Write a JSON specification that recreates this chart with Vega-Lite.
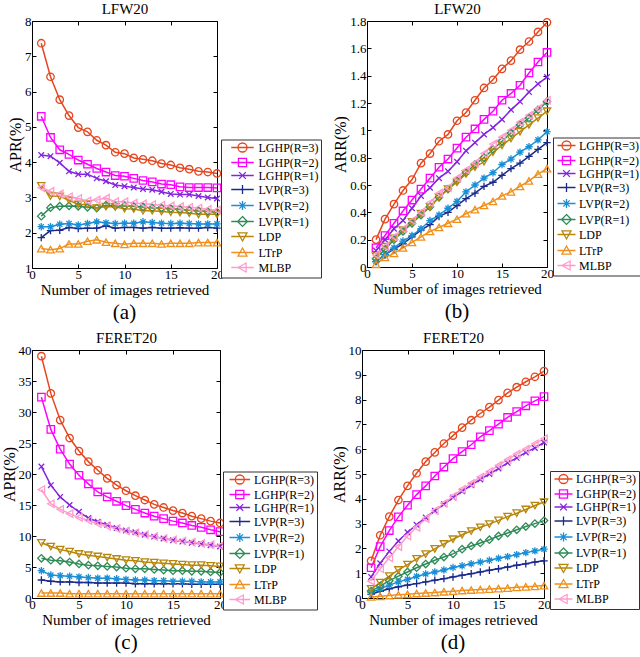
{
"$schema":"https://vega.github.io/schema/vega-lite/v6.json",
"padding":{"left":0,"top":1,"right":0,"bottom":0},
"config":{
"font":"Liberation Serif",
"view":{"stroke":"black","strokeWidth":1},
"axis":{"grid":false,"domain":false,"labelFlush":false,"labelOverlap":false,"tickColor":"black","tickSize":-4,"tickWidth":1,"labelFont":"Liberation Serif","labelFontSize":13,"labelColor":"black","titleFont":"Liberation Serif","titleFontSize":15,"titleFontWeight":"normal","titleColor":"black","labelPadding":4,"titlePadding":1},
"axisY":{"labelPadding":5},
"legend":{"labelFont":"Liberation Serif","labelFontSize":12,"labelColor":"black"},
"title":{"font":"Liberation Serif","fontWeight":"normal","fontSize":21,"color":"black","offset":5}
},
"datasets":{"d":[
{"p":"a","s":"LGHP(R=3)","x":1,"y":7.37},{"p":"a","s":"LGHP(R=3)","x":2,"y":6.42},{"p":"a","s":"LGHP(R=3)","x":3,"y":5.77},{"p":"a","s":"LGHP(R=3)","x":4,"y":5.32},{"p":"a","s":"LGHP(R=3)","x":5,"y":4.98},{"p":"a","s":"LGHP(R=3)","x":6,"y":4.86},{"p":"a","s":"LGHP(R=3)","x":7,"y":4.62},{"p":"a","s":"LGHP(R=3)","x":8,"y":4.48},{"p":"a","s":"LGHP(R=3)","x":9,"y":4.28},{"p":"a","s":"LGHP(R=3)","x":10,"y":4.24},{"p":"a","s":"LGHP(R=3)","x":11,"y":4.12},{"p":"a","s":"LGHP(R=3)","x":12,"y":4.08},{"p":"a","s":"LGHP(R=3)","x":13,"y":4.04},{"p":"a","s":"LGHP(R=3)","x":14,"y":3.96},{"p":"a","s":"LGHP(R=3)","x":15,"y":3.92},{"p":"a","s":"LGHP(R=3)","x":16,"y":3.84},{"p":"a","s":"LGHP(R=3)","x":17,"y":3.80},{"p":"a","s":"LGHP(R=3)","x":18,"y":3.74},{"p":"a","s":"LGHP(R=3)","x":19,"y":3.72},{"p":"a","s":"LGHP(R=3)","x":20,"y":3.68},
{"p":"a","s":"LGHP(R=2)","x":1,"y":5.30},{"p":"a","s":"LGHP(R=2)","x":2,"y":4.70},{"p":"a","s":"LGHP(R=2)","x":3,"y":4.35},{"p":"a","s":"LGHP(R=2)","x":4,"y":4.22},{"p":"a","s":"LGHP(R=2)","x":5,"y":4.06},{"p":"a","s":"LGHP(R=2)","x":6,"y":3.94},{"p":"a","s":"LGHP(R=2)","x":7,"y":3.82},{"p":"a","s":"LGHP(R=2)","x":8,"y":3.72},{"p":"a","s":"LGHP(R=2)","x":9,"y":3.62},{"p":"a","s":"LGHP(R=2)","x":10,"y":3.60},{"p":"a","s":"LGHP(R=2)","x":11,"y":3.54},{"p":"a","s":"LGHP(R=2)","x":12,"y":3.48},{"p":"a","s":"LGHP(R=2)","x":13,"y":3.44},{"p":"a","s":"LGHP(R=2)","x":14,"y":3.38},{"p":"a","s":"LGHP(R=2)","x":15,"y":3.36},{"p":"a","s":"LGHP(R=2)","x":16,"y":3.30},{"p":"a","s":"LGHP(R=2)","x":17,"y":3.28},{"p":"a","s":"LGHP(R=2)","x":18,"y":3.28},{"p":"a","s":"LGHP(R=2)","x":19,"y":3.28},{"p":"a","s":"LGHP(R=2)","x":20,"y":3.27},
{"p":"a","s":"LGHP(R=1)","x":1,"y":4.20},{"p":"a","s":"LGHP(R=1)","x":2,"y":4.17},{"p":"a","s":"LGHP(R=1)","x":3,"y":3.98},{"p":"a","s":"LGHP(R=1)","x":4,"y":3.74},{"p":"a","s":"LGHP(R=1)","x":5,"y":3.66},{"p":"a","s":"LGHP(R=1)","x":6,"y":3.66},{"p":"a","s":"LGHP(R=1)","x":7,"y":3.54},{"p":"a","s":"LGHP(R=1)","x":8,"y":3.46},{"p":"a","s":"LGHP(R=1)","x":9,"y":3.35},{"p":"a","s":"LGHP(R=1)","x":10,"y":3.32},{"p":"a","s":"LGHP(R=1)","x":11,"y":3.28},{"p":"a","s":"LGHP(R=1)","x":12,"y":3.24},{"p":"a","s":"LGHP(R=1)","x":13,"y":3.22},{"p":"a","s":"LGHP(R=1)","x":14,"y":3.16},{"p":"a","s":"LGHP(R=1)","x":15,"y":3.10},{"p":"a","s":"LGHP(R=1)","x":16,"y":3.08},{"p":"a","s":"LGHP(R=1)","x":17,"y":3.08},{"p":"a","s":"LGHP(R=1)","x":18,"y":3.04},{"p":"a","s":"LGHP(R=1)","x":19,"y":3.00},{"p":"a","s":"LGHP(R=1)","x":20,"y":2.97},
{"p":"a","s":"LVP(R=3)","x":1,"y":1.86},{"p":"a","s":"LVP(R=3)","x":2,"y":2.06},{"p":"a","s":"LVP(R=3)","x":3,"y":2.07},{"p":"a","s":"LVP(R=3)","x":4,"y":2.15},{"p":"a","s":"LVP(R=3)","x":5,"y":2.12},{"p":"a","s":"LVP(R=3)","x":6,"y":2.13},{"p":"a","s":"LVP(R=3)","x":7,"y":2.13},{"p":"a","s":"LVP(R=3)","x":8,"y":2.20},{"p":"a","s":"LVP(R=3)","x":9,"y":2.13},{"p":"a","s":"LVP(R=3)","x":10,"y":2.15},{"p":"a","s":"LVP(R=3)","x":11,"y":2.15},{"p":"a","s":"LVP(R=3)","x":12,"y":2.13},{"p":"a","s":"LVP(R=3)","x":13,"y":2.15},{"p":"a","s":"LVP(R=3)","x":14,"y":2.13},{"p":"a","s":"LVP(R=3)","x":15,"y":2.13},{"p":"a","s":"LVP(R=3)","x":16,"y":2.14},{"p":"a","s":"LVP(R=3)","x":17,"y":2.13},{"p":"a","s":"LVP(R=3)","x":18,"y":2.13},{"p":"a","s":"LVP(R=3)","x":19,"y":2.15},{"p":"a","s":"LVP(R=3)","x":20,"y":2.13},
{"p":"a","s":"LVP(R=2)","x":1,"y":2.17},{"p":"a","s":"LVP(R=2)","x":2,"y":2.17},{"p":"a","s":"LVP(R=2)","x":3,"y":2.24},{"p":"a","s":"LVP(R=2)","x":4,"y":2.26},{"p":"a","s":"LVP(R=2)","x":5,"y":2.22},{"p":"a","s":"LVP(R=2)","x":6,"y":2.26},{"p":"a","s":"LVP(R=2)","x":7,"y":2.31},{"p":"a","s":"LVP(R=2)","x":8,"y":2.28},{"p":"a","s":"LVP(R=2)","x":9,"y":2.26},{"p":"a","s":"LVP(R=2)","x":10,"y":2.27},{"p":"a","s":"LVP(R=2)","x":11,"y":2.27},{"p":"a","s":"LVP(R=2)","x":12,"y":2.31},{"p":"a","s":"LVP(R=2)","x":13,"y":2.29},{"p":"a","s":"LVP(R=2)","x":14,"y":2.27},{"p":"a","s":"LVP(R=2)","x":15,"y":2.26},{"p":"a","s":"LVP(R=2)","x":16,"y":2.27},{"p":"a","s":"LVP(R=2)","x":17,"y":2.26},{"p":"a","s":"LVP(R=2)","x":18,"y":2.25},{"p":"a","s":"LVP(R=2)","x":19,"y":2.25},{"p":"a","s":"LVP(R=2)","x":20,"y":2.25},
{"p":"a","s":"LVP(R=1)","x":1,"y":2.47},{"p":"a","s":"LVP(R=1)","x":2,"y":2.71},{"p":"a","s":"LVP(R=1)","x":3,"y":2.75},{"p":"a","s":"LVP(R=1)","x":4,"y":2.76},{"p":"a","s":"LVP(R=1)","x":5,"y":2.75},{"p":"a","s":"LVP(R=1)","x":6,"y":2.72},{"p":"a","s":"LVP(R=1)","x":7,"y":2.70},{"p":"a","s":"LVP(R=1)","x":8,"y":2.78},{"p":"a","s":"LVP(R=1)","x":9,"y":2.76},{"p":"a","s":"LVP(R=1)","x":10,"y":2.76},{"p":"a","s":"LVP(R=1)","x":11,"y":2.74},{"p":"a","s":"LVP(R=1)","x":12,"y":2.73},{"p":"a","s":"LVP(R=1)","x":13,"y":2.70},{"p":"a","s":"LVP(R=1)","x":14,"y":2.70},{"p":"a","s":"LVP(R=1)","x":15,"y":2.68},{"p":"a","s":"LVP(R=1)","x":16,"y":2.66},{"p":"a","s":"LVP(R=1)","x":17,"y":2.64},{"p":"a","s":"LVP(R=1)","x":18,"y":2.62},{"p":"a","s":"LVP(R=1)","x":19,"y":2.60},{"p":"a","s":"LVP(R=1)","x":20,"y":2.58},
{"p":"a","s":"LDP","x":1,"y":3.33},{"p":"a","s":"LDP","x":2,"y":3.04},{"p":"a","s":"LDP","x":3,"y":3.03},{"p":"a","s":"LDP","x":4,"y":2.92},{"p":"a","s":"LDP","x":5,"y":2.80},{"p":"a","s":"LDP","x":6,"y":2.80},{"p":"a","s":"LDP","x":7,"y":2.70},{"p":"a","s":"LDP","x":8,"y":2.74},{"p":"a","s":"LDP","x":9,"y":2.73},{"p":"a","s":"LDP","x":10,"y":2.68},{"p":"a","s":"LDP","x":11,"y":2.67},{"p":"a","s":"LDP","x":12,"y":2.62},{"p":"a","s":"LDP","x":13,"y":2.62},{"p":"a","s":"LDP","x":14,"y":2.60},{"p":"a","s":"LDP","x":15,"y":2.58},{"p":"a","s":"LDP","x":16,"y":2.57},{"p":"a","s":"LDP","x":17,"y":2.55},{"p":"a","s":"LDP","x":18,"y":2.52},{"p":"a","s":"LDP","x":19,"y":2.52},{"p":"a","s":"LDP","x":20,"y":2.52},
{"p":"a","s":"LTrP","x":1,"y":1.55},{"p":"a","s":"LTrP","x":2,"y":1.52},{"p":"a","s":"LTrP","x":3,"y":1.55},{"p":"a","s":"LTrP","x":4,"y":1.68},{"p":"a","s":"LTrP","x":5,"y":1.68},{"p":"a","s":"LTrP","x":6,"y":1.76},{"p":"a","s":"LTrP","x":7,"y":1.80},{"p":"a","s":"LTrP","x":8,"y":1.73},{"p":"a","s":"LTrP","x":9,"y":1.70},{"p":"a","s":"LTrP","x":10,"y":1.67},{"p":"a","s":"LTrP","x":11,"y":1.70},{"p":"a","s":"LTrP","x":12,"y":1.70},{"p":"a","s":"LTrP","x":13,"y":1.70},{"p":"a","s":"LTrP","x":14,"y":1.68},{"p":"a","s":"LTrP","x":15,"y":1.70},{"p":"a","s":"LTrP","x":16,"y":1.70},{"p":"a","s":"LTrP","x":17,"y":1.70},{"p":"a","s":"LTrP","x":18,"y":1.72},{"p":"a","s":"LTrP","x":19,"y":1.72},{"p":"a","s":"LTrP","x":20,"y":1.72},
{"p":"a","s":"MLBP","x":1,"y":3.28},{"p":"a","s":"MLBP","x":2,"y":3.17},{"p":"a","s":"MLBP","x":3,"y":3.10},{"p":"a","s":"MLBP","x":4,"y":3.02},{"p":"a","s":"MLBP","x":5,"y":2.97},{"p":"a","s":"MLBP","x":6,"y":2.90},{"p":"a","s":"MLBP","x":7,"y":2.93},{"p":"a","s":"MLBP","x":8,"y":2.98},{"p":"a","s":"MLBP","x":9,"y":2.88},{"p":"a","s":"MLBP","x":10,"y":2.88},{"p":"a","s":"MLBP","x":11,"y":2.84},{"p":"a","s":"MLBP","x":12,"y":2.82},{"p":"a","s":"MLBP","x":13,"y":2.80},{"p":"a","s":"MLBP","x":14,"y":2.78},{"p":"a","s":"MLBP","x":15,"y":2.76},{"p":"a","s":"MLBP","x":16,"y":2.74},{"p":"a","s":"MLBP","x":17,"y":2.72},{"p":"a","s":"MLBP","x":18,"y":2.70},{"p":"a","s":"MLBP","x":19,"y":2.66},{"p":"a","s":"MLBP","x":20,"y":2.64},
{"p":"b","s":"LGHP(R=3)","x":1,"y":0.20},{"p":"b","s":"LGHP(R=3)","x":2,"y":0.35},{"p":"b","s":"LGHP(R=3)","x":3,"y":0.46},{"p":"b","s":"LGHP(R=3)","x":4,"y":0.56},{"p":"b","s":"LGHP(R=3)","x":5,"y":0.64},{"p":"b","s":"LGHP(R=3)","x":6,"y":0.76},{"p":"b","s":"LGHP(R=3)","x":7,"y":0.83},{"p":"b","s":"LGHP(R=3)","x":8,"y":0.92},{"p":"b","s":"LGHP(R=3)","x":9,"y":0.97},{"p":"b","s":"LGHP(R=3)","x":10,"y":1.07},{"p":"b","s":"LGHP(R=3)","x":11,"y":1.13},{"p":"b","s":"LGHP(R=3)","x":12,"y":1.22},{"p":"b","s":"LGHP(R=3)","x":13,"y":1.31},{"p":"b","s":"LGHP(R=3)","x":14,"y":1.37},{"p":"b","s":"LGHP(R=3)","x":15,"y":1.45},{"p":"b","s":"LGHP(R=3)","x":16,"y":1.51},{"p":"b","s":"LGHP(R=3)","x":17,"y":1.59},{"p":"b","s":"LGHP(R=3)","x":18,"y":1.65},{"p":"b","s":"LGHP(R=3)","x":19,"y":1.72},{"p":"b","s":"LGHP(R=3)","x":20,"y":1.79},
{"p":"b","s":"LGHP(R=2)","x":1,"y":0.14},{"p":"b","s":"LGHP(R=2)","x":2,"y":0.23},{"p":"b","s":"LGHP(R=2)","x":3,"y":0.32},{"p":"b","s":"LGHP(R=2)","x":4,"y":0.41},{"p":"b","s":"LGHP(R=2)","x":5,"y":0.49},{"p":"b","s":"LGHP(R=2)","x":6,"y":0.57},{"p":"b","s":"LGHP(R=2)","x":7,"y":0.65},{"p":"b","s":"LGHP(R=2)","x":8,"y":0.73},{"p":"b","s":"LGHP(R=2)","x":9,"y":0.79},{"p":"b","s":"LGHP(R=2)","x":10,"y":0.87},{"p":"b","s":"LGHP(R=2)","x":11,"y":0.95},{"p":"b","s":"LGHP(R=2)","x":12,"y":1.01},{"p":"b","s":"LGHP(R=2)","x":13,"y":1.08},{"p":"b","s":"LGHP(R=2)","x":14,"y":1.14},{"p":"b","s":"LGHP(R=2)","x":15,"y":1.22},{"p":"b","s":"LGHP(R=2)","x":16,"y":1.27},{"p":"b","s":"LGHP(R=2)","x":17,"y":1.33},{"p":"b","s":"LGHP(R=2)","x":18,"y":1.42},{"p":"b","s":"LGHP(R=2)","x":19,"y":1.50},{"p":"b","s":"LGHP(R=2)","x":20,"y":1.57},
{"p":"b","s":"LGHP(R=1)","x":1,"y":0.12},{"p":"b","s":"LGHP(R=1)","x":2,"y":0.20},{"p":"b","s":"LGHP(R=1)","x":3,"y":0.28},{"p":"b","s":"LGHP(R=1)","x":4,"y":0.34},{"p":"b","s":"LGHP(R=1)","x":5,"y":0.43},{"p":"b","s":"LGHP(R=1)","x":6,"y":0.52},{"p":"b","s":"LGHP(R=1)","x":7,"y":0.58},{"p":"b","s":"LGHP(R=1)","x":8,"y":0.65},{"p":"b","s":"LGHP(R=1)","x":9,"y":0.70},{"p":"b","s":"LGHP(R=1)","x":10,"y":0.77},{"p":"b","s":"LGHP(R=1)","x":11,"y":0.85},{"p":"b","s":"LGHP(R=1)","x":12,"y":0.91},{"p":"b","s":"LGHP(R=1)","x":13,"y":0.97},{"p":"b","s":"LGHP(R=1)","x":14,"y":1.02},{"p":"b","s":"LGHP(R=1)","x":15,"y":1.08},{"p":"b","s":"LGHP(R=1)","x":16,"y":1.15},{"p":"b","s":"LGHP(R=1)","x":17,"y":1.21},{"p":"b","s":"LGHP(R=1)","x":18,"y":1.28},{"p":"b","s":"LGHP(R=1)","x":19,"y":1.34},{"p":"b","s":"LGHP(R=1)","x":20,"y":1.39},
{"p":"b","s":"LVP(R=3)","x":1,"y":0.04},{"p":"b","s":"LVP(R=3)","x":2,"y":0.09},{"p":"b","s":"LVP(R=3)","x":3,"y":0.13},{"p":"b","s":"LVP(R=3)","x":4,"y":0.17},{"p":"b","s":"LVP(R=3)","x":5,"y":0.22},{"p":"b","s":"LVP(R=3)","x":6,"y":0.27},{"p":"b","s":"LVP(R=3)","x":7,"y":0.31},{"p":"b","s":"LVP(R=3)","x":8,"y":0.37},{"p":"b","s":"LVP(R=3)","x":9,"y":0.40},{"p":"b","s":"LVP(R=3)","x":10,"y":0.45},{"p":"b","s":"LVP(R=3)","x":11,"y":0.50},{"p":"b","s":"LVP(R=3)","x":12,"y":0.54},{"p":"b","s":"LVP(R=3)","x":13,"y":0.59},{"p":"b","s":"LVP(R=3)","x":14,"y":0.62},{"p":"b","s":"LVP(R=3)","x":15,"y":0.67},{"p":"b","s":"LVP(R=3)","x":16,"y":0.72},{"p":"b","s":"LVP(R=3)","x":17,"y":0.76},{"p":"b","s":"LVP(R=3)","x":18,"y":0.81},{"p":"b","s":"LVP(R=3)","x":19,"y":0.86},{"p":"b","s":"LVP(R=3)","x":20,"y":0.91},
{"p":"b","s":"LVP(R=2)","x":1,"y":0.04},{"p":"b","s":"LVP(R=2)","x":2,"y":0.09},{"p":"b","s":"LVP(R=2)","x":3,"y":0.14},{"p":"b","s":"LVP(R=2)","x":4,"y":0.19},{"p":"b","s":"LVP(R=2)","x":5,"y":0.23},{"p":"b","s":"LVP(R=2)","x":6,"y":0.28},{"p":"b","s":"LVP(R=2)","x":7,"y":0.34},{"p":"b","s":"LVP(R=2)","x":8,"y":0.38},{"p":"b","s":"LVP(R=2)","x":9,"y":0.43},{"p":"b","s":"LVP(R=2)","x":10,"y":0.48},{"p":"b","s":"LVP(R=2)","x":11,"y":0.55},{"p":"b","s":"LVP(R=2)","x":12,"y":0.60},{"p":"b","s":"LVP(R=2)","x":13,"y":0.65},{"p":"b","s":"LVP(R=2)","x":14,"y":0.69},{"p":"b","s":"LVP(R=2)","x":15,"y":0.75},{"p":"b","s":"LVP(R=2)","x":16,"y":0.79},{"p":"b","s":"LVP(R=2)","x":17,"y":0.84},{"p":"b","s":"LVP(R=2)","x":18,"y":0.88},{"p":"b","s":"LVP(R=2)","x":19,"y":0.93},{"p":"b","s":"LVP(R=2)","x":20,"y":0.99},
{"p":"b","s":"LVP(R=1)","x":1,"y":0.06},{"p":"b","s":"LVP(R=1)","x":2,"y":0.13},{"p":"b","s":"LVP(R=1)","x":3,"y":0.20},{"p":"b","s":"LVP(R=1)","x":4,"y":0.26},{"p":"b","s":"LVP(R=1)","x":5,"y":0.32},{"p":"b","s":"LVP(R=1)","x":6,"y":0.38},{"p":"b","s":"LVP(R=1)","x":7,"y":0.44},{"p":"b","s":"LVP(R=1)","x":8,"y":0.51},{"p":"b","s":"LVP(R=1)","x":9,"y":0.57},{"p":"b","s":"LVP(R=1)","x":10,"y":0.63},{"p":"b","s":"LVP(R=1)","x":11,"y":0.69},{"p":"b","s":"LVP(R=1)","x":12,"y":0.75},{"p":"b","s":"LVP(R=1)","x":13,"y":0.80},{"p":"b","s":"LVP(R=1)","x":14,"y":0.86},{"p":"b","s":"LVP(R=1)","x":15,"y":0.92},{"p":"b","s":"LVP(R=1)","x":16,"y":0.98},{"p":"b","s":"LVP(R=1)","x":17,"y":1.04},{"p":"b","s":"LVP(R=1)","x":18,"y":1.09},{"p":"b","s":"LVP(R=1)","x":19,"y":1.15},{"p":"b","s":"LVP(R=1)","x":20,"y":1.21},
{"p":"b","s":"LDP","x":1,"y":0.08},{"p":"b","s":"LDP","x":2,"y":0.15},{"p":"b","s":"LDP","x":3,"y":0.21},{"p":"b","s":"LDP","x":4,"y":0.27},{"p":"b","s":"LDP","x":5,"y":0.33},{"p":"b","s":"LDP","x":6,"y":0.39},{"p":"b","s":"LDP","x":7,"y":0.44},{"p":"b","s":"LDP","x":8,"y":0.51},{"p":"b","s":"LDP","x":9,"y":0.57},{"p":"b","s":"LDP","x":10,"y":0.62},{"p":"b","s":"LDP","x":11,"y":0.68},{"p":"b","s":"LDP","x":12,"y":0.73},{"p":"b","s":"LDP","x":13,"y":0.77},{"p":"b","s":"LDP","x":14,"y":0.84},{"p":"b","s":"LDP","x":15,"y":0.89},{"p":"b","s":"LDP","x":16,"y":0.94},{"p":"b","s":"LDP","x":17,"y":0.99},{"p":"b","s":"LDP","x":18,"y":1.04},{"p":"b","s":"LDP","x":19,"y":1.09},{"p":"b","s":"LDP","x":20,"y":1.14},
{"p":"b","s":"LTrP","x":1,"y":0.02},{"p":"b","s":"LTrP","x":2,"y":0.07},{"p":"b","s":"LTrP","x":3,"y":0.10},{"p":"b","s":"LTrP","x":4,"y":0.14},{"p":"b","s":"LTrP","x":5,"y":0.18},{"p":"b","s":"LTrP","x":6,"y":0.22},{"p":"b","s":"LTrP","x":7,"y":0.26},{"p":"b","s":"LTrP","x":8,"y":0.29},{"p":"b","s":"LTrP","x":9,"y":0.32},{"p":"b","s":"LTrP","x":10,"y":0.35},{"p":"b","s":"LTrP","x":11,"y":0.39},{"p":"b","s":"LTrP","x":12,"y":0.42},{"p":"b","s":"LTrP","x":13,"y":0.45},{"p":"b","s":"LTrP","x":14,"y":0.48},{"p":"b","s":"LTrP","x":15,"y":0.52},{"p":"b","s":"LTrP","x":16,"y":0.55},{"p":"b","s":"LTrP","x":17,"y":0.59},{"p":"b","s":"LTrP","x":18,"y":0.63},{"p":"b","s":"LTrP","x":19,"y":0.68},{"p":"b","s":"LTrP","x":20,"y":0.72},
{"p":"b","s":"MLBP","x":1,"y":0.09},{"p":"b","s":"MLBP","x":2,"y":0.15},{"p":"b","s":"MLBP","x":3,"y":0.22},{"p":"b","s":"MLBP","x":4,"y":0.28},{"p":"b","s":"MLBP","x":5,"y":0.34},{"p":"b","s":"MLBP","x":6,"y":0.40},{"p":"b","s":"MLBP","x":7,"y":0.47},{"p":"b","s":"MLBP","x":8,"y":0.54},{"p":"b","s":"MLBP","x":9,"y":0.58},{"p":"b","s":"MLBP","x":10,"y":0.65},{"p":"b","s":"MLBP","x":11,"y":0.71},{"p":"b","s":"MLBP","x":12,"y":0.76},{"p":"b","s":"MLBP","x":13,"y":0.83},{"p":"b","s":"MLBP","x":14,"y":0.90},{"p":"b","s":"MLBP","x":15,"y":0.95},{"p":"b","s":"MLBP","x":16,"y":1.00},{"p":"b","s":"MLBP","x":17,"y":1.06},{"p":"b","s":"MLBP","x":18,"y":1.11},{"p":"b","s":"MLBP","x":19,"y":1.16},{"p":"b","s":"MLBP","x":20,"y":1.22},
{"p":"c","s":"LGHP(R=3)","x":1,"y":39.0},{"p":"c","s":"LGHP(R=3)","x":2,"y":33.0},{"p":"c","s":"LGHP(R=3)","x":3,"y":28.7},{"p":"c","s":"LGHP(R=3)","x":4,"y":25.8},{"p":"c","s":"LGHP(R=3)","x":5,"y":23.7},{"p":"c","s":"LGHP(R=3)","x":6,"y":22.0},{"p":"c","s":"LGHP(R=3)","x":7,"y":20.6},{"p":"c","s":"LGHP(R=3)","x":8,"y":19.3},{"p":"c","s":"LGHP(R=3)","x":9,"y":18.2},{"p":"c","s":"LGHP(R=3)","x":10,"y":17.3},{"p":"c","s":"LGHP(R=3)","x":11,"y":16.5},{"p":"c","s":"LGHP(R=3)","x":12,"y":15.8},{"p":"c","s":"LGHP(R=3)","x":13,"y":15.1},{"p":"c","s":"LGHP(R=3)","x":14,"y":14.6},{"p":"c","s":"LGHP(R=3)","x":15,"y":14.1},{"p":"c","s":"LGHP(R=3)","x":16,"y":13.7},{"p":"c","s":"LGHP(R=3)","x":17,"y":13.2},{"p":"c","s":"LGHP(R=3)","x":18,"y":12.8},{"p":"c","s":"LGHP(R=3)","x":19,"y":12.4},{"p":"c","s":"LGHP(R=3)","x":20,"y":12.1},
{"p":"c","s":"LGHP(R=2)","x":1,"y":32.4},{"p":"c","s":"LGHP(R=2)","x":2,"y":27.2},{"p":"c","s":"LGHP(R=2)","x":3,"y":24.0},{"p":"c","s":"LGHP(R=2)","x":4,"y":21.6},{"p":"c","s":"LGHP(R=2)","x":5,"y":19.8},{"p":"c","s":"LGHP(R=2)","x":6,"y":18.4},{"p":"c","s":"LGHP(R=2)","x":7,"y":17.1},{"p":"c","s":"LGHP(R=2)","x":8,"y":16.3},{"p":"c","s":"LGHP(R=2)","x":9,"y":15.6},{"p":"c","s":"LGHP(R=2)","x":10,"y":14.9},{"p":"c","s":"LGHP(R=2)","x":11,"y":14.3},{"p":"c","s":"LGHP(R=2)","x":12,"y":13.7},{"p":"c","s":"LGHP(R=2)","x":13,"y":13.2},{"p":"c","s":"LGHP(R=2)","x":14,"y":12.8},{"p":"c","s":"LGHP(R=2)","x":15,"y":12.4},{"p":"c","s":"LGHP(R=2)","x":16,"y":12.1},{"p":"c","s":"LGHP(R=2)","x":17,"y":11.7},{"p":"c","s":"LGHP(R=2)","x":18,"y":11.4},{"p":"c","s":"LGHP(R=2)","x":19,"y":11.0},{"p":"c","s":"LGHP(R=2)","x":20,"y":10.7},
{"p":"c","s":"LGHP(R=1)","x":1,"y":21.2},{"p":"c","s":"LGHP(R=1)","x":2,"y":18.2},{"p":"c","s":"LGHP(R=1)","x":3,"y":16.3},{"p":"c","s":"LGHP(R=1)","x":4,"y":15.0},{"p":"c","s":"LGHP(R=1)","x":5,"y":13.9},{"p":"c","s":"LGHP(R=1)","x":6,"y":12.9},{"p":"c","s":"LGHP(R=1)","x":7,"y":12.3},{"p":"c","s":"LGHP(R=1)","x":8,"y":11.8},{"p":"c","s":"LGHP(R=1)","x":9,"y":11.3},{"p":"c","s":"LGHP(R=1)","x":10,"y":10.9},{"p":"c","s":"LGHP(R=1)","x":11,"y":10.6},{"p":"c","s":"LGHP(R=1)","x":12,"y":10.2},{"p":"c","s":"LGHP(R=1)","x":13,"y":9.9},{"p":"c","s":"LGHP(R=1)","x":14,"y":9.6},{"p":"c","s":"LGHP(R=1)","x":15,"y":9.3},{"p":"c","s":"LGHP(R=1)","x":16,"y":9.1},{"p":"c","s":"LGHP(R=1)","x":17,"y":8.9},{"p":"c","s":"LGHP(R=1)","x":18,"y":8.7},{"p":"c","s":"LGHP(R=1)","x":19,"y":8.5},{"p":"c","s":"LGHP(R=1)","x":20,"y":8.3},
{"p":"c","s":"LVP(R=3)","x":1,"y":2.9},{"p":"c","s":"LVP(R=3)","x":2,"y":2.7},{"p":"c","s":"LVP(R=3)","x":3,"y":2.6},{"p":"c","s":"LVP(R=3)","x":4,"y":2.6},{"p":"c","s":"LVP(R=3)","x":5,"y":2.5},{"p":"c","s":"LVP(R=3)","x":6,"y":2.5},{"p":"c","s":"LVP(R=3)","x":7,"y":2.4},{"p":"c","s":"LVP(R=3)","x":8,"y":2.4},{"p":"c","s":"LVP(R=3)","x":9,"y":2.4},{"p":"c","s":"LVP(R=3)","x":10,"y":2.4},{"p":"c","s":"LVP(R=3)","x":11,"y":2.3},{"p":"c","s":"LVP(R=3)","x":12,"y":2.3},{"p":"c","s":"LVP(R=3)","x":13,"y":2.3},{"p":"c","s":"LVP(R=3)","x":14,"y":2.3},{"p":"c","s":"LVP(R=3)","x":15,"y":2.3},{"p":"c","s":"LVP(R=3)","x":16,"y":2.3},{"p":"c","s":"LVP(R=3)","x":17,"y":2.2},{"p":"c","s":"LVP(R=3)","x":18,"y":2.2},{"p":"c","s":"LVP(R=3)","x":19,"y":2.2},{"p":"c","s":"LVP(R=3)","x":20,"y":2.2},
{"p":"c","s":"LVP(R=2)","x":1,"y":4.4},{"p":"c","s":"LVP(R=2)","x":2,"y":3.7},{"p":"c","s":"LVP(R=2)","x":3,"y":3.6},{"p":"c","s":"LVP(R=2)","x":4,"y":3.5},{"p":"c","s":"LVP(R=2)","x":5,"y":3.4},{"p":"c","s":"LVP(R=2)","x":6,"y":3.3},{"p":"c","s":"LVP(R=2)","x":7,"y":3.2},{"p":"c","s":"LVP(R=2)","x":8,"y":3.2},{"p":"c","s":"LVP(R=2)","x":9,"y":3.1},{"p":"c","s":"LVP(R=2)","x":10,"y":3.0},{"p":"c","s":"LVP(R=2)","x":11,"y":2.9},{"p":"c","s":"LVP(R=2)","x":12,"y":2.9},{"p":"c","s":"LVP(R=2)","x":13,"y":2.8},{"p":"c","s":"LVP(R=2)","x":14,"y":2.8},{"p":"c","s":"LVP(R=2)","x":15,"y":2.7},{"p":"c","s":"LVP(R=2)","x":16,"y":2.7},{"p":"c","s":"LVP(R=2)","x":17,"y":2.7},{"p":"c","s":"LVP(R=2)","x":18,"y":2.6},{"p":"c","s":"LVP(R=2)","x":19,"y":2.6},{"p":"c","s":"LVP(R=2)","x":20,"y":2.6},
{"p":"c","s":"LVP(R=1)","x":1,"y":6.4},{"p":"c","s":"LVP(R=1)","x":2,"y":6.1},{"p":"c","s":"LVP(R=1)","x":3,"y":6.0},{"p":"c","s":"LVP(R=1)","x":4,"y":5.8},{"p":"c","s":"LVP(R=1)","x":5,"y":5.5},{"p":"c","s":"LVP(R=1)","x":6,"y":5.3},{"p":"c","s":"LVP(R=1)","x":7,"y":5.2},{"p":"c","s":"LVP(R=1)","x":8,"y":5.1},{"p":"c","s":"LVP(R=1)","x":9,"y":5.0},{"p":"c","s":"LVP(R=1)","x":10,"y":4.8},{"p":"c","s":"LVP(R=1)","x":11,"y":4.7},{"p":"c","s":"LVP(R=1)","x":12,"y":4.7},{"p":"c","s":"LVP(R=1)","x":13,"y":4.6},{"p":"c","s":"LVP(R=1)","x":14,"y":4.5},{"p":"c","s":"LVP(R=1)","x":15,"y":4.4},{"p":"c","s":"LVP(R=1)","x":16,"y":4.4},{"p":"c","s":"LVP(R=1)","x":17,"y":4.3},{"p":"c","s":"LVP(R=1)","x":18,"y":4.3},{"p":"c","s":"LVP(R=1)","x":19,"y":4.2},{"p":"c","s":"LVP(R=1)","x":20,"y":4.1},
{"p":"c","s":"LDP","x":1,"y":8.9},{"p":"c","s":"LDP","x":2,"y":8.3},{"p":"c","s":"LDP","x":3,"y":7.8},{"p":"c","s":"LDP","x":4,"y":7.5},{"p":"c","s":"LDP","x":5,"y":7.1},{"p":"c","s":"LDP","x":6,"y":6.9},{"p":"c","s":"LDP","x":7,"y":6.7},{"p":"c","s":"LDP","x":8,"y":6.5},{"p":"c","s":"LDP","x":9,"y":6.3},{"p":"c","s":"LDP","x":10,"y":6.1},{"p":"c","s":"LDP","x":11,"y":6.0},{"p":"c","s":"LDP","x":12,"y":5.8},{"p":"c","s":"LDP","x":13,"y":5.7},{"p":"c","s":"LDP","x":14,"y":5.6},{"p":"c","s":"LDP","x":15,"y":5.5},{"p":"c","s":"LDP","x":16,"y":5.4},{"p":"c","s":"LDP","x":17,"y":5.3},{"p":"c","s":"LDP","x":18,"y":5.3},{"p":"c","s":"LDP","x":19,"y":5.2},{"p":"c","s":"LDP","x":20,"y":5.1},
{"p":"c","s":"LTrP","x":1,"y":0.8},{"p":"c","s":"LTrP","x":2,"y":0.8},{"p":"c","s":"LTrP","x":3,"y":0.8},{"p":"c","s":"LTrP","x":4,"y":0.7},{"p":"c","s":"LTrP","x":5,"y":0.7},{"p":"c","s":"LTrP","x":6,"y":0.7},{"p":"c","s":"LTrP","x":7,"y":0.7},{"p":"c","s":"LTrP","x":8,"y":0.7},{"p":"c","s":"LTrP","x":9,"y":0.7},{"p":"c","s":"LTrP","x":10,"y":0.7},{"p":"c","s":"LTrP","x":11,"y":0.7},{"p":"c","s":"LTrP","x":12,"y":0.7},{"p":"c","s":"LTrP","x":13,"y":0.7},{"p":"c","s":"LTrP","x":14,"y":0.7},{"p":"c","s":"LTrP","x":15,"y":0.7},{"p":"c","s":"LTrP","x":16,"y":0.7},{"p":"c","s":"LTrP","x":17,"y":0.7},{"p":"c","s":"LTrP","x":18,"y":0.7},{"p":"c","s":"LTrP","x":19,"y":0.7},{"p":"c","s":"LTrP","x":20,"y":0.7},
{"p":"c","s":"MLBP","x":1,"y":17.5},{"p":"c","s":"MLBP","x":2,"y":15.2},{"p":"c","s":"MLBP","x":3,"y":14.3},{"p":"c","s":"MLBP","x":4,"y":13.6},{"p":"c","s":"MLBP","x":5,"y":13.0},{"p":"c","s":"MLBP","x":6,"y":12.5},{"p":"c","s":"MLBP","x":7,"y":12.0},{"p":"c","s":"MLBP","x":8,"y":11.6},{"p":"c","s":"MLBP","x":9,"y":11.2},{"p":"c","s":"MLBP","x":10,"y":10.8},{"p":"c","s":"MLBP","x":11,"y":10.5},{"p":"c","s":"MLBP","x":12,"y":10.2},{"p":"c","s":"MLBP","x":13,"y":9.9},{"p":"c","s":"MLBP","x":14,"y":9.6},{"p":"c","s":"MLBP","x":15,"y":9.4},{"p":"c","s":"MLBP","x":16,"y":9.2},{"p":"c","s":"MLBP","x":17,"y":9.0},{"p":"c","s":"MLBP","x":18,"y":8.8},{"p":"c","s":"MLBP","x":19,"y":8.6},{"p":"c","s":"MLBP","x":20,"y":8.4},
{"p":"d","s":"LGHP(R=3)","x":1,"y":1.50},{"p":"d","s":"LGHP(R=3)","x":2,"y":2.53},{"p":"d","s":"LGHP(R=3)","x":3,"y":3.28},{"p":"d","s":"LGHP(R=3)","x":4,"y":3.95},{"p":"d","s":"LGHP(R=3)","x":5,"y":4.52},{"p":"d","s":"LGHP(R=3)","x":6,"y":5.03},{"p":"d","s":"LGHP(R=3)","x":7,"y":5.50},{"p":"d","s":"LGHP(R=3)","x":8,"y":5.87},{"p":"d","s":"LGHP(R=3)","x":9,"y":6.23},{"p":"d","s":"LGHP(R=3)","x":10,"y":6.55},{"p":"d","s":"LGHP(R=3)","x":11,"y":6.87},{"p":"d","s":"LGHP(R=3)","x":12,"y":7.17},{"p":"d","s":"LGHP(R=3)","x":13,"y":7.44},{"p":"d","s":"LGHP(R=3)","x":14,"y":7.70},{"p":"d","s":"LGHP(R=3)","x":15,"y":7.98},{"p":"d","s":"LGHP(R=3)","x":16,"y":8.27},{"p":"d","s":"LGHP(R=3)","x":17,"y":8.50},{"p":"d","s":"LGHP(R=3)","x":18,"y":8.72},{"p":"d","s":"LGHP(R=3)","x":19,"y":8.92},{"p":"d","s":"LGHP(R=3)","x":20,"y":9.15},
{"p":"d","s":"LGHP(R=2)","x":1,"y":1.22},{"p":"d","s":"LGHP(R=2)","x":2,"y":2.07},{"p":"d","s":"LGHP(R=2)","x":3,"y":2.72},{"p":"d","s":"LGHP(R=2)","x":4,"y":3.27},{"p":"d","s":"LGHP(R=2)","x":5,"y":3.74},{"p":"d","s":"LGHP(R=2)","x":6,"y":4.17},{"p":"d","s":"LGHP(R=2)","x":7,"y":4.52},{"p":"d","s":"LGHP(R=2)","x":8,"y":4.92},{"p":"d","s":"LGHP(R=2)","x":9,"y":5.28},{"p":"d","s":"LGHP(R=2)","x":10,"y":5.62},{"p":"d","s":"LGHP(R=2)","x":11,"y":5.90},{"p":"d","s":"LGHP(R=2)","x":12,"y":6.18},{"p":"d","s":"LGHP(R=2)","x":13,"y":6.50},{"p":"d","s":"LGHP(R=2)","x":14,"y":6.75},{"p":"d","s":"LGHP(R=2)","x":15,"y":7.01},{"p":"d","s":"LGHP(R=2)","x":16,"y":7.28},{"p":"d","s":"LGHP(R=2)","x":17,"y":7.52},{"p":"d","s":"LGHP(R=2)","x":18,"y":7.75},{"p":"d","s":"LGHP(R=2)","x":19,"y":7.95},{"p":"d","s":"LGHP(R=2)","x":20,"y":8.12},
{"p":"d","s":"LGHP(R=1)","x":1,"y":0.85},{"p":"d","s":"LGHP(R=1)","x":2,"y":1.40},{"p":"d","s":"LGHP(R=1)","x":3,"y":1.88},{"p":"d","s":"LGHP(R=1)","x":4,"y":2.30},{"p":"d","s":"LGHP(R=1)","x":5,"y":2.65},{"p":"d","s":"LGHP(R=1)","x":6,"y":2.95},{"p":"d","s":"LGHP(R=1)","x":7,"y":3.25},{"p":"d","s":"LGHP(R=1)","x":8,"y":3.52},{"p":"d","s":"LGHP(R=1)","x":9,"y":3.78},{"p":"d","s":"LGHP(R=1)","x":10,"y":4.05},{"p":"d","s":"LGHP(R=1)","x":11,"y":4.30},{"p":"d","s":"LGHP(R=1)","x":12,"y":4.55},{"p":"d","s":"LGHP(R=1)","x":13,"y":4.78},{"p":"d","s":"LGHP(R=1)","x":14,"y":5.00},{"p":"d","s":"LGHP(R=1)","x":15,"y":5.22},{"p":"d","s":"LGHP(R=1)","x":16,"y":5.45},{"p":"d","s":"LGHP(R=1)","x":17,"y":5.65},{"p":"d","s":"LGHP(R=1)","x":18,"y":5.87},{"p":"d","s":"LGHP(R=1)","x":19,"y":6.05},{"p":"d","s":"LGHP(R=1)","x":20,"y":6.27},
{"p":"d","s":"LVP(R=3)","x":1,"y":0.15},{"p":"d","s":"LVP(R=3)","x":2,"y":0.27},{"p":"d","s":"LVP(R=3)","x":3,"y":0.37},{"p":"d","s":"LVP(R=3)","x":4,"y":0.45},{"p":"d","s":"LVP(R=3)","x":5,"y":0.52},{"p":"d","s":"LVP(R=3)","x":6,"y":0.58},{"p":"d","s":"LVP(R=3)","x":7,"y":0.65},{"p":"d","s":"LVP(R=3)","x":8,"y":0.72},{"p":"d","s":"LVP(R=3)","x":9,"y":0.78},{"p":"d","s":"LVP(R=3)","x":10,"y":0.85},{"p":"d","s":"LVP(R=3)","x":11,"y":0.92},{"p":"d","s":"LVP(R=3)","x":12,"y":0.98},{"p":"d","s":"LVP(R=3)","x":13,"y":1.05},{"p":"d","s":"LVP(R=3)","x":14,"y":1.12},{"p":"d","s":"LVP(R=3)","x":15,"y":1.18},{"p":"d","s":"LVP(R=3)","x":16,"y":1.25},{"p":"d","s":"LVP(R=3)","x":17,"y":1.32},{"p":"d","s":"LVP(R=3)","x":18,"y":1.38},{"p":"d","s":"LVP(R=3)","x":19,"y":1.45},{"p":"d","s":"LVP(R=3)","x":20,"y":1.50},
{"p":"d","s":"LVP(R=2)","x":1,"y":0.22},{"p":"d","s":"LVP(R=2)","x":2,"y":0.37},{"p":"d","s":"LVP(R=2)","x":3,"y":0.52},{"p":"d","s":"LVP(R=2)","x":4,"y":0.65},{"p":"d","s":"LVP(R=2)","x":5,"y":0.75},{"p":"d","s":"LVP(R=2)","x":6,"y":0.87},{"p":"d","s":"LVP(R=2)","x":7,"y":0.97},{"p":"d","s":"LVP(R=2)","x":8,"y":1.05},{"p":"d","s":"LVP(R=2)","x":9,"y":1.13},{"p":"d","s":"LVP(R=2)","x":10,"y":1.23},{"p":"d","s":"LVP(R=2)","x":11,"y":1.30},{"p":"d","s":"LVP(R=2)","x":12,"y":1.38},{"p":"d","s":"LVP(R=2)","x":13,"y":1.45},{"p":"d","s":"LVP(R=2)","x":14,"y":1.52},{"p":"d","s":"LVP(R=2)","x":15,"y":1.60},{"p":"d","s":"LVP(R=2)","x":16,"y":1.67},{"p":"d","s":"LVP(R=2)","x":17,"y":1.75},{"p":"d","s":"LVP(R=2)","x":18,"y":1.83},{"p":"d","s":"LVP(R=2)","x":19,"y":1.90},{"p":"d","s":"LVP(R=2)","x":20,"y":1.97},
{"p":"d","s":"LVP(R=1)","x":1,"y":0.28},{"p":"d","s":"LVP(R=1)","x":2,"y":0.48},{"p":"d","s":"LVP(R=1)","x":3,"y":0.70},{"p":"d","s":"LVP(R=1)","x":4,"y":0.88},{"p":"d","s":"LVP(R=1)","x":5,"y":1.05},{"p":"d","s":"LVP(R=1)","x":6,"y":1.22},{"p":"d","s":"LVP(R=1)","x":7,"y":1.37},{"p":"d","s":"LVP(R=1)","x":8,"y":1.52},{"p":"d","s":"LVP(R=1)","x":9,"y":1.65},{"p":"d","s":"LVP(R=1)","x":10,"y":1.78},{"p":"d","s":"LVP(R=1)","x":11,"y":1.97},{"p":"d","s":"LVP(R=1)","x":12,"y":2.10},{"p":"d","s":"LVP(R=1)","x":13,"y":2.22},{"p":"d","s":"LVP(R=1)","x":14,"y":2.35},{"p":"d","s":"LVP(R=1)","x":15,"y":2.50},{"p":"d","s":"LVP(R=1)","x":16,"y":2.62},{"p":"d","s":"LVP(R=1)","x":17,"y":2.75},{"p":"d","s":"LVP(R=1)","x":18,"y":2.88},{"p":"d","s":"LVP(R=1)","x":19,"y":3.00},{"p":"d","s":"LVP(R=1)","x":20,"y":3.12},
{"p":"d","s":"LDP","x":1,"y":0.37},{"p":"d","s":"LDP","x":2,"y":0.62},{"p":"d","s":"LDP","x":3,"y":0.88},{"p":"d","s":"LDP","x":4,"y":1.13},{"p":"d","s":"LDP","x":5,"y":1.35},{"p":"d","s":"LDP","x":6,"y":1.58},{"p":"d","s":"LDP","x":7,"y":1.77},{"p":"d","s":"LDP","x":8,"y":1.98},{"p":"d","s":"LDP","x":9,"y":2.18},{"p":"d","s":"LDP","x":10,"y":2.37},{"p":"d","s":"LDP","x":11,"y":2.55},{"p":"d","s":"LDP","x":12,"y":2.70},{"p":"d","s":"LDP","x":13,"y":2.85},{"p":"d","s":"LDP","x":14,"y":2.98},{"p":"d","s":"LDP","x":15,"y":3.13},{"p":"d","s":"LDP","x":16,"y":3.28},{"p":"d","s":"LDP","x":17,"y":3.42},{"p":"d","s":"LDP","x":18,"y":3.57},{"p":"d","s":"LDP","x":19,"y":3.73},{"p":"d","s":"LDP","x":20,"y":3.87},
{"p":"d","s":"LTrP","x":1,"y":0.04},{"p":"d","s":"LTrP","x":2,"y":0.07},{"p":"d","s":"LTrP","x":3,"y":0.10},{"p":"d","s":"LTrP","x":4,"y":0.13},{"p":"d","s":"LTrP","x":5,"y":0.15},{"p":"d","s":"LTrP","x":6,"y":0.18},{"p":"d","s":"LTrP","x":7,"y":0.20},{"p":"d","s":"LTrP","x":8,"y":0.22},{"p":"d","s":"LTrP","x":9,"y":0.25},{"p":"d","s":"LTrP","x":10,"y":0.27},{"p":"d","s":"LTrP","x":11,"y":0.30},{"p":"d","s":"LTrP","x":12,"y":0.32},{"p":"d","s":"LTrP","x":13,"y":0.34},{"p":"d","s":"LTrP","x":14,"y":0.36},{"p":"d","s":"LTrP","x":15,"y":0.38},{"p":"d","s":"LTrP","x":16,"y":0.40},{"p":"d","s":"LTrP","x":17,"y":0.43},{"p":"d","s":"LTrP","x":18,"y":0.45},{"p":"d","s":"LTrP","x":19,"y":0.47},{"p":"d","s":"LTrP","x":20,"y":0.50},
{"p":"d","s":"MLBP","x":1,"y":0.68},{"p":"d","s":"MLBP","x":2,"y":1.18},{"p":"d","s":"MLBP","x":3,"y":1.62},{"p":"d","s":"MLBP","x":4,"y":2.07},{"p":"d","s":"MLBP","x":5,"y":2.50},{"p":"d","s":"MLBP","x":6,"y":2.85},{"p":"d","s":"MLBP","x":7,"y":3.20},{"p":"d","s":"MLBP","x":8,"y":3.52},{"p":"d","s":"MLBP","x":9,"y":3.82},{"p":"d","s":"MLBP","x":10,"y":4.10},{"p":"d","s":"MLBP","x":11,"y":4.38},{"p":"d","s":"MLBP","x":12,"y":4.62},{"p":"d","s":"MLBP","x":13,"y":4.88},{"p":"d","s":"MLBP","x":14,"y":5.10},{"p":"d","s":"MLBP","x":15,"y":5.35},{"p":"d","s":"MLBP","x":16,"y":5.58},{"p":"d","s":"MLBP","x":17,"y":5.80},{"p":"d","s":"MLBP","x":18,"y":6.00},{"p":"d","s":"MLBP","x":19,"y":6.22},{"p":"d","s":"MLBP","x":20,"y":6.42}
]},
"vconcat":[
{"hconcat":[
{"width":185,"height":247,"title":{"text":"(a)","orient":"bottom"},
"data":{"name":"d"},"transform":[{"filter":"datum.p=='a'"}],
"layer":[
{"mark":{"type":"line","strokeWidth":1.5},
"encoding":{
"x":{"field":"x","type":"quantitative","scale":{"domain":[0,20],"nice":false},"axis":{"orient":"bottom","values":[0,5,10,15,20],"title":"Number of images retrieved"}},
"y":{"field":"y","type":"quantitative","scale":{"domain":[1,8],"nice":false},"axis":{"orient":"left","values":[1,2,3,4,5,6,7,8],"title":"APR(%)","titleFontSize":16}},
"color":{"field":"s","type":"nominal","scale":{"domain":["LGHP(R=3)","LGHP(R=2)","LGHP(R=1)","LVP(R=3)","LVP(R=2)","LVP(R=1)","LDP","LTrP","MLBP"],"range":["#e6461e","#ff00ff","#8424e0","#1b2a8a","#1a8fd6","#2e8b57","#b8860b","#f0901c","#ff9ccc"]},
"legend":{"title":null,"orient":"none","legendX":189,"legendY":118.5,"strokeColor":"#333","fillColor":"white","padding":2,"rowPadding":0,"symbolSize":81,"symbolStrokeWidth":1.3,"symbolOffset":13.5,"labelOffset":10,"encode":{"symbols":{"update":{"shape":{"signal":"['M-2.5,0L2.5,0M1,0A1,1,0,1,1,-1,0A1,1,0,1,1,1,0','M-2.5,0L2.5,0M-0.9,-0.9L0.9,-0.9L0.9,0.9L-0.9,0.9Z','M-2.5,0L2.5,0M-0.75,-0.75L0.75,0.75M-0.75,0.75L0.75,-0.75','M-2.5,0L2.5,0M0,-1L0,1','M-2.5,0L2.5,0M0,-1L0,1M-0.7,-0.7L0.7,0.7M-0.7,0.7L0.7,-0.7','M-2.5,0L2.5,0M0,-1.1L1.1,0L0,1.1L-1.1,0Z','M-2.5,0L2.5,0M-1,-0.8L1,-0.8L0,1Z','M-2.5,0L2.5,0M-1,0.8L1,0.8L0,-1Z','M-2.5,0L2.5,0M0.8,-1L0.8,1L-1,0Z'][indexof(['LGHP(R=3)','LGHP(R=2)','LGHP(R=1)','LVP(R=3)','LVP(R=2)','LVP(R=1)','LDP','LTrP','MLBP'],datum.value)]"}}}}}}}},
{"mark":{"type":"point","filled":false,"size":55,"strokeWidth":1.3,"opacity":1},
"encoding":{
"x":{"field":"x","type":"quantitative","scale":{"domain":[0,20],"nice":false},"axis":{"orient":"top","labels":false,"values":[0,5,10,15,20],"title":"LFW20","titlePadding":4}},
"y":{"field":"y","type":"quantitative","scale":{"domain":[1,8],"nice":false},"axis":{"orient":"right","labels":false,"values":[1,2,3,4,5,6,7,8],"title":null}},
"color":{"field":"s","type":"nominal","scale":{"domain":["LGHP(R=3)","LGHP(R=2)","LGHP(R=1)","LVP(R=3)","LVP(R=2)","LVP(R=1)","LDP","LTrP","MLBP"],"range":["#e6461e","#ff00ff","#8424e0","#1b2a8a","#1a8fd6","#2e8b57","#b8860b","#f0901c","#ff9ccc"]},
"legend":{"title":null,"orient":"none","legendX":189,"legendY":118.5,"strokeColor":"#333","fillColor":"white","padding":2,"rowPadding":0,"symbolSize":81,"symbolStrokeWidth":1.3,"symbolOffset":13.5,"labelOffset":10,"encode":{"symbols":{"update":{"shape":{"signal":"['M-2.5,0L2.5,0M1,0A1,1,0,1,1,-1,0A1,1,0,1,1,1,0','M-2.5,0L2.5,0M-0.9,-0.9L0.9,-0.9L0.9,0.9L-0.9,0.9Z','M-2.5,0L2.5,0M-0.75,-0.75L0.75,0.75M-0.75,0.75L0.75,-0.75','M-2.5,0L2.5,0M0,-1L0,1','M-2.5,0L2.5,0M0,-1L0,1M-0.7,-0.7L0.7,0.7M-0.7,0.7L0.7,-0.7','M-2.5,0L2.5,0M0,-1.1L1.1,0L0,1.1L-1.1,0Z','M-2.5,0L2.5,0M-1,-0.8L1,-0.8L0,1Z','M-2.5,0L2.5,0M-1,0.8L1,0.8L0,-1Z','M-2.5,0L2.5,0M0.8,-1L0.8,1L-1,0Z'][indexof(['LGHP(R=3)','LGHP(R=2)','LGHP(R=1)','LVP(R=3)','LVP(R=2)','LVP(R=1)','LDP','LTrP','MLBP'],datum.value)]"}}}}}},
"shape":{"field":"s","type":"nominal","legend":null,"scale":{"domain":["MLBP","LTrP","LDP","LVP(R=1)","LVP(R=2)","LVP(R=3)","LGHP(R=1)","LGHP(R=2)","LGHP(R=3)"],"range":["triangle-left","triangle-up","triangle-down","diamond","M-1,0L1,0M0,-1L0,1M-0.7,-0.7L0.7,0.7M-0.7,0.7L0.7,-0.7","M-1,0L1,0M0,-1L0,1","M-0.75,-0.75L0.75,0.75M-0.75,0.75L0.75,-0.75","square","circle"]}}}}
],
"resolve":{"axis":{"x":"independent","y":"independent"}}},
{"width":180,"height":246,"title":{"text":"(b)","orient":"bottom"},
"data":{"name":"d"},"transform":[{"filter":"datum.p=='b'"}],
"layer":[
{"mark":{"type":"line","strokeWidth":1.5},
"encoding":{
"x":{"field":"x","type":"quantitative","scale":{"domain":[0,20],"nice":false},"axis":{"orient":"bottom","values":[0,5,10,15,20],"title":"Number of images retrieved"}},
"y":{"field":"y","type":"quantitative","scale":{"domain":[0,1.8],"nice":false},"axis":{"orient":"left","values":[0,0.2,0.4,0.6,0.8,1,1.2,1.4,1.6,1.8],"format":"~g","title":"ARR(%)","titleFontSize":16}},
"color":{"field":"s","type":"nominal","scale":{"domain":["LGHP(R=3)","LGHP(R=2)","LGHP(R=1)","LVP(R=3)","LVP(R=2)","LVP(R=1)","LDP","LTrP","MLBP"],"range":["#e6461e","#ff00ff","#8424e0","#1b2a8a","#1a8fd6","#2e8b57","#b8860b","#f0901c","#ff9ccc"]},
"legend":{"title":null,"orient":"none","legendX":186,"legendY":116.5,"strokeColor":"#333","fillColor":"white","padding":2,"rowPadding":0,"symbolSize":81,"symbolStrokeWidth":1.3,"symbolOffset":5.5,"labelOffset":6.5,"encode":{"symbols":{"update":{"shape":{"signal":"['M-2,0L2,0M1,0A1,1,0,1,1,-1,0A1,1,0,1,1,1,0','M-2,0L2,0M-0.9,-0.9L0.9,-0.9L0.9,0.9L-0.9,0.9Z','M-2,0L2,0M-0.75,-0.75L0.75,0.75M-0.75,0.75L0.75,-0.75','M-2,0L2,0M0,-1L0,1','M-2,0L2,0M0,-1L0,1M-0.7,-0.7L0.7,0.7M-0.7,0.7L0.7,-0.7','M-2,0L2,0M0,-1.1L1.1,0L0,1.1L-1.1,0Z','M-2,0L2,0M-1,-0.8L1,-0.8L0,1Z','M-2,0L2,0M-1,0.8L1,0.8L0,-1Z','M-2,0L2,0M0.8,-1L0.8,1L-1,0Z'][indexof(['LGHP(R=3)','LGHP(R=2)','LGHP(R=1)','LVP(R=3)','LVP(R=2)','LVP(R=1)','LDP','LTrP','MLBP'],datum.value)]"}}}}}}}},
{"mark":{"type":"point","filled":false,"size":55,"strokeWidth":1.3,"opacity":1},
"encoding":{
"x":{"field":"x","type":"quantitative","scale":{"domain":[0,20],"nice":false},"axis":{"orient":"top","labels":false,"values":[0,5,10,15,20],"title":"LFW20","titlePadding":4}},
"y":{"field":"y","type":"quantitative","scale":{"domain":[0,1.8],"nice":false},"axis":{"orient":"right","labels":false,"values":[0,0.2,0.4,0.6,0.8,1,1.2,1.4,1.6,1.8],"title":null}},
"color":{"field":"s","type":"nominal","scale":{"domain":["LGHP(R=3)","LGHP(R=2)","LGHP(R=1)","LVP(R=3)","LVP(R=2)","LVP(R=1)","LDP","LTrP","MLBP"],"range":["#e6461e","#ff00ff","#8424e0","#1b2a8a","#1a8fd6","#2e8b57","#b8860b","#f0901c","#ff9ccc"]},
"legend":{"title":null,"orient":"none","legendX":186,"legendY":116.5,"strokeColor":"#333","fillColor":"white","padding":2,"rowPadding":0,"symbolSize":81,"symbolStrokeWidth":1.3,"symbolOffset":5.5,"labelOffset":6.5,"encode":{"symbols":{"update":{"shape":{"signal":"['M-2,0L2,0M1,0A1,1,0,1,1,-1,0A1,1,0,1,1,1,0','M-2,0L2,0M-0.9,-0.9L0.9,-0.9L0.9,0.9L-0.9,0.9Z','M-2,0L2,0M-0.75,-0.75L0.75,0.75M-0.75,0.75L0.75,-0.75','M-2,0L2,0M0,-1L0,1','M-2,0L2,0M0,-1L0,1M-0.7,-0.7L0.7,0.7M-0.7,0.7L0.7,-0.7','M-2,0L2,0M0,-1.1L1.1,0L0,1.1L-1.1,0Z','M-2,0L2,0M-1,-0.8L1,-0.8L0,1Z','M-2,0L2,0M-1,0.8L1,0.8L0,-1Z','M-2,0L2,0M0.8,-1L0.8,1L-1,0Z'][indexof(['LGHP(R=3)','LGHP(R=2)','LGHP(R=1)','LVP(R=3)','LVP(R=2)','LVP(R=1)','LDP','LTrP','MLBP'],datum.value)]"}}}}}},
"shape":{"field":"s","type":"nominal","legend":null,"scale":{"domain":["MLBP","LTrP","LDP","LVP(R=1)","LVP(R=2)","LVP(R=3)","LGHP(R=1)","LGHP(R=2)","LGHP(R=3)"],"range":["triangle-left","triangle-up","triangle-down","diamond","M-1,0L1,0M0,-1L0,1M-0.7,-0.7L0.7,0.7M-0.7,0.7L0.7,-0.7","M-1,0L1,0M0,-1L0,1","M-0.75,-0.75L0.75,0.75M-0.75,0.75L0.75,-0.75","square","circle"]}}}}
],
"resolve":{"axis":{"x":"independent","y":"independent"}}}
],"spacing":10,"resolve":{"scale":{"color":"independent","shape":"independent"},"legend":{"color":"independent","shape":"independent"}}},
{"hconcat":[
{"width":188,"height":248,"title":{"text":"(c)","orient":"bottom"},
"data":{"name":"d"},"transform":[{"filter":"datum.p=='c'"}],
"layer":[
{"mark":{"type":"line","strokeWidth":1.5},
"encoding":{
"x":{"field":"x","type":"quantitative","scale":{"domain":[0,20],"nice":false},"axis":{"orient":"bottom","values":[0,5,10,15,20],"title":"Number of images retrieved"}},
"y":{"field":"y","type":"quantitative","scale":{"domain":[0,40],"nice":false},"axis":{"orient":"left","values":[0,5,10,15,20,25,30,35,40],"title":"APR(%)","titleFontSize":16,"labelPadding":5}},
"color":{"field":"s","type":"nominal","scale":{"domain":["LGHP(R=3)","LGHP(R=2)","LGHP(R=1)","LVP(R=3)","LVP(R=2)","LVP(R=1)","LDP","LTrP","MLBP"],"range":["#e6461e","#ff00ff","#8424e0","#1b2a8a","#1a8fd6","#2e8b57","#b8860b","#f0901c","#ff9ccc"]},
"legend":{"title":null,"orient":"none","legendX":191,"legendY":121.5,"strokeColor":"#333","fillColor":"white","padding":2,"rowPadding":0,"symbolSize":81,"symbolStrokeWidth":1.3,"symbolOffset":8.8,"labelOffset":8.2,"encode":{"symbols":{"update":{"shape":{"signal":"['M-2.3,0L2.3,0M1,0A1,1,0,1,1,-1,0A1,1,0,1,1,1,0','M-2.3,0L2.3,0M-0.9,-0.9L0.9,-0.9L0.9,0.9L-0.9,0.9Z','M-2.3,0L2.3,0M-0.75,-0.75L0.75,0.75M-0.75,0.75L0.75,-0.75','M-2.3,0L2.3,0M0,-1L0,1','M-2.3,0L2.3,0M0,-1L0,1M-0.7,-0.7L0.7,0.7M-0.7,0.7L0.7,-0.7','M-2.3,0L2.3,0M0,-1.1L1.1,0L0,1.1L-1.1,0Z','M-2.3,0L2.3,0M-1,-0.8L1,-0.8L0,1Z','M-2.3,0L2.3,0M-1,0.8L1,0.8L0,-1Z','M-2.3,0L2.3,0M0.8,-1L0.8,1L-1,0Z'][indexof(['LGHP(R=3)','LGHP(R=2)','LGHP(R=1)','LVP(R=3)','LVP(R=2)','LVP(R=1)','LDP','LTrP','MLBP'],datum.value)]"}}}}}}}},
{"mark":{"type":"point","filled":false,"size":55,"strokeWidth":1.3,"opacity":1},
"encoding":{
"x":{"field":"x","type":"quantitative","scale":{"domain":[0,20],"nice":false},"axis":{"orient":"top","labels":false,"values":[0,5,10,15,20],"title":"FERET20","titlePadding":4}},
"y":{"field":"y","type":"quantitative","scale":{"domain":[0,40],"nice":false},"axis":{"orient":"right","labels":false,"values":[0,5,10,15,20,25,30,35,40],"title":null}},
"color":{"field":"s","type":"nominal","scale":{"domain":["LGHP(R=3)","LGHP(R=2)","LGHP(R=1)","LVP(R=3)","LVP(R=2)","LVP(R=1)","LDP","LTrP","MLBP"],"range":["#e6461e","#ff00ff","#8424e0","#1b2a8a","#1a8fd6","#2e8b57","#b8860b","#f0901c","#ff9ccc"]},
"legend":{"title":null,"orient":"none","legendX":191,"legendY":121.5,"strokeColor":"#333","fillColor":"white","padding":2,"rowPadding":0,"symbolSize":81,"symbolStrokeWidth":1.3,"symbolOffset":8.8,"labelOffset":8.2,"encode":{"symbols":{"update":{"shape":{"signal":"['M-2.3,0L2.3,0M1,0A1,1,0,1,1,-1,0A1,1,0,1,1,1,0','M-2.3,0L2.3,0M-0.9,-0.9L0.9,-0.9L0.9,0.9L-0.9,0.9Z','M-2.3,0L2.3,0M-0.75,-0.75L0.75,0.75M-0.75,0.75L0.75,-0.75','M-2.3,0L2.3,0M0,-1L0,1','M-2.3,0L2.3,0M0,-1L0,1M-0.7,-0.7L0.7,0.7M-0.7,0.7L0.7,-0.7','M-2.3,0L2.3,0M0,-1.1L1.1,0L0,1.1L-1.1,0Z','M-2.3,0L2.3,0M-1,-0.8L1,-0.8L0,1Z','M-2.3,0L2.3,0M-1,0.8L1,0.8L0,-1Z','M-2.3,0L2.3,0M0.8,-1L0.8,1L-1,0Z'][indexof(['LGHP(R=3)','LGHP(R=2)','LGHP(R=1)','LVP(R=3)','LVP(R=2)','LVP(R=1)','LDP','LTrP','MLBP'],datum.value)]"}}}}}},
"shape":{"field":"s","type":"nominal","legend":null,"scale":{"domain":["MLBP","LTrP","LDP","LVP(R=1)","LVP(R=2)","LVP(R=3)","LGHP(R=1)","LGHP(R=2)","LGHP(R=3)"],"range":["triangle-left","triangle-up","triangle-down","diamond","M-1,0L1,0M0,-1L0,1M-0.7,-0.7L0.7,0.7M-0.7,0.7L0.7,-0.7","M-1,0L1,0M0,-1L0,1","M-0.75,-0.75L0.75,0.75M-0.75,0.75L0.75,-0.75","square","circle"]}}}}
],
"resolve":{"axis":{"x":"independent","y":"independent"}}},
{"width":182,"height":248,"title":{"text":"(d)","orient":"bottom"},
"data":{"name":"d"},"transform":[{"filter":"datum.p=='d'"}],
"layer":[
{"mark":{"type":"line","strokeWidth":1.5},
"encoding":{
"x":{"field":"x","type":"quantitative","scale":{"domain":[0,20],"nice":false},"axis":{"orient":"bottom","values":[0,5,10,15,20],"title":"Number of images retrieved"}},
"y":{"field":"y","type":"quantitative","scale":{"domain":[0,10],"nice":false},"axis":{"orient":"left","values":[0,1,2,3,4,5,6,7,8,9,10],"title":"ARR(%)","titleFontSize":16}},
"color":{"field":"s","type":"nominal","scale":{"domain":["LGHP(R=3)","LGHP(R=2)","LGHP(R=1)","LVP(R=3)","LVP(R=2)","LVP(R=1)","LDP","LTrP","MLBP"],"range":["#e6461e","#ff00ff","#8424e0","#1b2a8a","#1a8fd6","#2e8b57","#b8860b","#f0901c","#ff9ccc"]},
"legend":{"title":null,"orient":"none","legendX":188,"legendY":121,"strokeColor":"#333","fillColor":"white","padding":2,"rowPadding":0,"symbolSize":81,"symbolStrokeWidth":1.3,"symbolOffset":5.5,"labelOffset":6.5,"encode":{"symbols":{"update":{"shape":{"signal":"['M-2,0L2,0M1,0A1,1,0,1,1,-1,0A1,1,0,1,1,1,0','M-2,0L2,0M-0.9,-0.9L0.9,-0.9L0.9,0.9L-0.9,0.9Z','M-2,0L2,0M-0.75,-0.75L0.75,0.75M-0.75,0.75L0.75,-0.75','M-2,0L2,0M0,-1L0,1','M-2,0L2,0M0,-1L0,1M-0.7,-0.7L0.7,0.7M-0.7,0.7L0.7,-0.7','M-2,0L2,0M0,-1.1L1.1,0L0,1.1L-1.1,0Z','M-2,0L2,0M-1,-0.8L1,-0.8L0,1Z','M-2,0L2,0M-1,0.8L1,0.8L0,-1Z','M-2,0L2,0M0.8,-1L0.8,1L-1,0Z'][indexof(['LGHP(R=3)','LGHP(R=2)','LGHP(R=1)','LVP(R=3)','LVP(R=2)','LVP(R=1)','LDP','LTrP','MLBP'],datum.value)]"}}}}}}}},
{"mark":{"type":"point","filled":false,"size":55,"strokeWidth":1.3,"opacity":1},
"encoding":{
"x":{"field":"x","type":"quantitative","scale":{"domain":[0,20],"nice":false},"axis":{"orient":"top","labels":false,"values":[0,5,10,15,20],"title":"FERET20","titlePadding":4}},
"y":{"field":"y","type":"quantitative","scale":{"domain":[0,10],"nice":false},"axis":{"orient":"right","labels":false,"values":[0,1,2,3,4,5,6,7,8,9,10],"title":null}},
"color":{"field":"s","type":"nominal","scale":{"domain":["LGHP(R=3)","LGHP(R=2)","LGHP(R=1)","LVP(R=3)","LVP(R=2)","LVP(R=1)","LDP","LTrP","MLBP"],"range":["#e6461e","#ff00ff","#8424e0","#1b2a8a","#1a8fd6","#2e8b57","#b8860b","#f0901c","#ff9ccc"]},
"legend":{"title":null,"orient":"none","legendX":188,"legendY":121,"strokeColor":"#333","fillColor":"white","padding":2,"rowPadding":0,"symbolSize":81,"symbolStrokeWidth":1.3,"symbolOffset":5.5,"labelOffset":6.5,"encode":{"symbols":{"update":{"shape":{"signal":"['M-2,0L2,0M1,0A1,1,0,1,1,-1,0A1,1,0,1,1,1,0','M-2,0L2,0M-0.9,-0.9L0.9,-0.9L0.9,0.9L-0.9,0.9Z','M-2,0L2,0M-0.75,-0.75L0.75,0.75M-0.75,0.75L0.75,-0.75','M-2,0L2,0M0,-1L0,1','M-2,0L2,0M0,-1L0,1M-0.7,-0.7L0.7,0.7M-0.7,0.7L0.7,-0.7','M-2,0L2,0M0,-1.1L1.1,0L0,1.1L-1.1,0Z','M-2,0L2,0M-1,-0.8L1,-0.8L0,1Z','M-2,0L2,0M-1,0.8L1,0.8L0,-1Z','M-2,0L2,0M0.8,-1L0.8,1L-1,0Z'][indexof(['LGHP(R=3)','LGHP(R=2)','LGHP(R=1)','LVP(R=3)','LVP(R=2)','LVP(R=1)','LDP','LTrP','MLBP'],datum.value)]"}}}}}},
"shape":{"field":"s","type":"nominal","legend":null,"scale":{"domain":["MLBP","LTrP","LDP","LVP(R=1)","LVP(R=2)","LVP(R=3)","LGHP(R=1)","LGHP(R=2)","LGHP(R=3)"],"range":["triangle-left","triangle-up","triangle-down","diamond","M-1,0L1,0M0,-1L0,1M-0.7,-0.7L0.7,0.7M-0.7,0.7L0.7,-0.7","M-1,0L1,0M0,-1L0,1","M-0.75,-0.75L0.75,0.75M-0.75,0.75L0.75,-0.75","square","circle"]}}}}
],
"resolve":{"axis":{"x":"independent","y":"independent"}}}
],"spacing":12,"resolve":{"scale":{"color":"independent","shape":"independent"},"legend":{"color":"independent","shape":"independent"}}}
],
"spacing":6,
"resolve":{"scale":{"color":"independent","shape":"independent"},"legend":{"color":"independent","shape":"independent"}}
}
